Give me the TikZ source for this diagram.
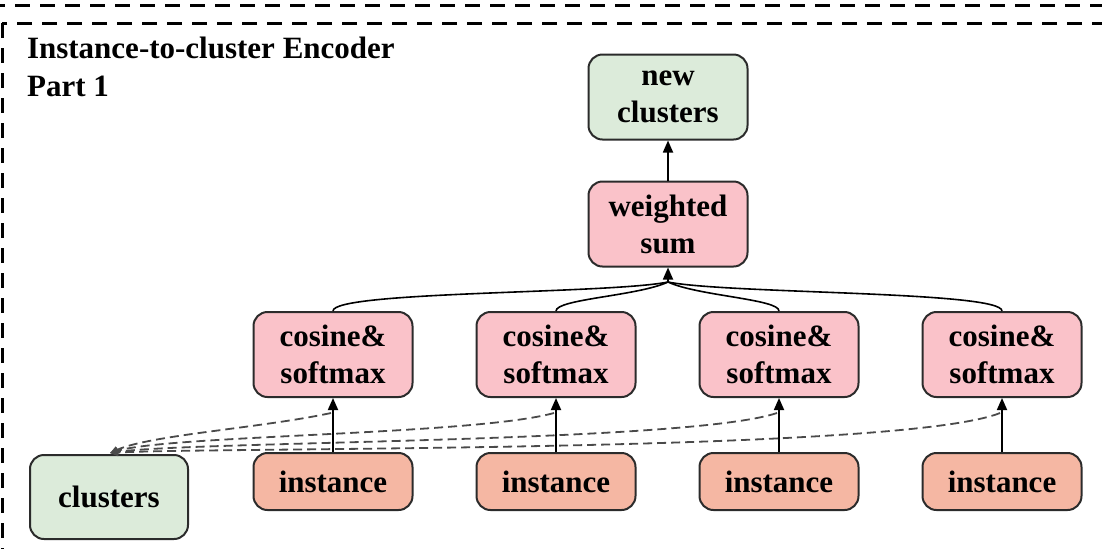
\documentclass[tikz,border=0pt]{standalone}
\usepackage{fontspec}
\setmainfont{Liberation Serif}
\usetikzlibrary{arrows.meta}
\definecolor{boxgreen}{HTML}{DCEBDA}
\definecolor{boxpink}{HTML}{FAC2C9}
\definecolor{boxsalmon}{HTML}{F5B7A3}
\definecolor{edgegray}{HTML}{2B2B2B}
\definecolor{dashgray}{HTML}{4A4A4A}
\begin{document}
\begin{tikzpicture}[x=0.5pt,y=-0.5pt,
  box/.style={draw=edgegray,line width=1pt,rounded corners=7pt,align=center,
    font=\bfseries\fontsize{15.5}{18.5}\selectfont,inner sep=0pt,
    minimum width=79.5pt,minimum height=42.5pt},
  greenbox/.style={box,fill=boxgreen},
  pinkbox/.style={box,fill=boxpink},
  instbox/.style={box,fill=boxsalmon,minimum height=28.5pt},
  frame/.style={line width=1.5pt,dash pattern=on 7.5pt off 5pt},
  solidarrow/.style={line width=0.9pt,-{Triangle[length=6pt,width=5pt]}},
  link/.style={line width=0.8pt},
  dasharrow/.style={draw=dashgray,line width=0.9pt,dash pattern=on 4.5pt off 2.5pt,
    -{Triangle[length=4pt,width=3.5pt]}}]
\useasboundingbox (0,0) rectangle (1102,548);
\begin{scope}
\clip (0,0) rectangle (1102,548);
\draw[frame] (-10,5) -- (1120,5);
\draw[frame] (2,23) rectangle (1140,600);
\end{scope}
\node[anchor=base west,align=left,font=\bfseries\fontsize{15.5}{19}\selectfont] (title) at (20,96)
  {Instance-to-cluster Encoder\\Part 1};
\node[greenbox] (newc) at (668,97) {new\\clusters};
\node[pinkbox] (wsum) at (668,224) {weighted\\sum};
\node[greenbox,minimum width=79pt,minimum height=42pt] (clus) at (109,497) {clusters};
\foreach \i/\x in {1/333,2/556,3/779,4/1002}{
  \node[pinkbox] (cos\i) at (\x,354.5) {cosine\&\\softmax};
  \node[instbox] (inst\i) at (\x,481.5) {instance};
  \draw[solidarrow] (inst\i.north) -- (cos\i.south);
  \coordinate (d\i) at (\x-2,413);
}
\coordinate (conv) at (668,282);
\coordinate (ca) at (110,453);
\draw[link] (cos1.north) .. controls +(0,-20) and +(-60,12) .. (conv);
\draw[link] (cos2.north) .. controls +(0,-12) and +(-30,14) .. (conv);
\draw[link] (cos3.north) .. controls +(0,-12) and +(30,14) .. (conv);
\draw[link] (cos4.north) .. controls +(0,-20) and +(60,12) .. (conv);
\draw[solidarrow] (conv) -- (wsum.south);
\draw[solidarrow] (wsum.north) -- (newc.south);
\draw[dasharrow] (d1) .. controls +(-70,15) and +(40,-18) .. (ca);
\draw[dasharrow] (d2) .. controls +(-80,22) and +(60,-18) .. (ca);
\draw[dasharrow] (d3) .. controls +(-90,30) and +(80,-12) .. (ca);
\draw[dasharrow] (d4) .. controls +(-100,40) and +(100,-6) .. (ca);
\end{tikzpicture}
\end{document}
